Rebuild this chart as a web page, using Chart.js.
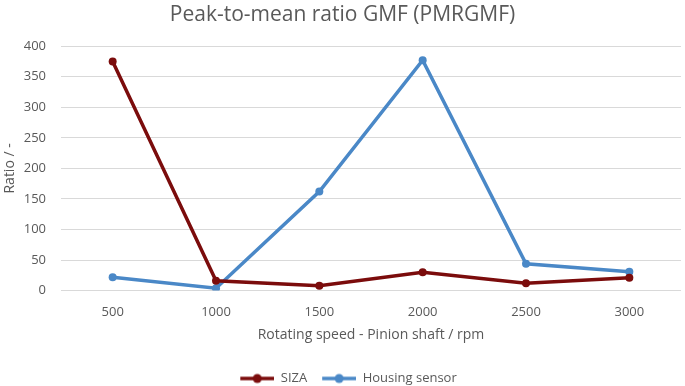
<!DOCTYPE html>
<html>
<head>
<meta charset="utf-8">
<script src="https://cdn.jsdelivr.net/npm/chart.js@4/dist/chart.umd.min.js"></script>
<style>
  html, body { margin: 0; padding: 0; background: #fff; }
  #wrap { width: 685px; height: 386px; position: relative; }
</style>
</head>
<body>
<div id="wrap"><canvas id="chart"></canvas></div>
<script>
const speeds = ['500', '1000', '1500', '2000', '2500', '3000'];
const sizaValues = [375, 16, 8, 30, 12, 21];
const housingValues = [22, 4, 162, 377, 44, 31];
const yTicks = [0, 50, 100, 150, 200, 250, 300, 350, 400];

const FONT = "'Open Sans', 'Noto Sans', sans-serif";
const GREY = '#595959';

// legend marker: short line with a dot in the middle, some blank room on the left
function legendMarker(color) {
  const c = document.createElement('canvas');
  c.width = 46; c.height = 12;
  const ctx = c.getContext('2d');
  ctx.strokeStyle = color;
  ctx.lineWidth = 3.5;
  ctx.beginPath();
  ctx.moveTo(12, 6); ctx.lineTo(46, 6);
  ctx.stroke();
  ctx.fillStyle = color;
  ctx.beginPath();
  ctx.arc(29, 6, 4.5, 0, Math.PI * 2);
  ctx.fill();
  return c;
}

new Chart(document.getElementById('chart'), {
  type: 'line',
  data: {
    labels: speeds,
    datasets: [
      {
        label: 'SIZA',
        data: sizaValues,
        borderColor: '#7b0c0c',
        backgroundColor: '#7b0c0c',
        borderWidth: 3.5,
        pointRadius: 4,
        pointHoverRadius: 4,
        pointBorderWidth: 0,
        tension: 0
      },
      {
        label: 'Housing sensor',
        data: housingValues,
        borderColor: '#4a88c7',
        backgroundColor: '#4a88c7',
        borderWidth: 3.5,
        pointRadius: 4,
        pointHoverRadius: 4,
        pointBorderWidth: 0,
        tension: 0
      }
    ]
  },
  options: {
    responsive: true,
    maintainAspectRatio: false,
    animation: false,
    layout: { padding: { left: 0, right: 0, top: 2, bottom: -9 } },
    scales: {
      x: {
        offset: true,
        grid: { display: false },
        border: { display: false },
        ticks: { color: GREY, font: { family: FONT, size: 13 }, padding: 6 },
        title: {
          display: true,
          text: 'Rotating speed - Pinion shaft / rpm',
          color: GREY,
          font: { family: FONT, size: 14 },
          padding: { top: 0, bottom: 26 }
        }
      },
      y: {
        min: 0,
        max: 400,
        afterBuildTicks: axis => { axis.ticks = yTicks.map(v => ({ value: v })); },
        afterFit: axis => { axis.width = 61; },
        grid: { color: '#d9d9d9', lineWidth: 1, drawTicks: false },
        border: { display: false },
        ticks: { color: GREY, font: { family: FONT, size: 13 }, padding: 15 },
        title: {
          display: true,
          text: 'Ratio / -',
          color: GREY,
          font: { family: FONT, size: 14 },
          padding: { top: 2, bottom: 0 }
        }
      }
    },
    plugins: {
      title: {
        display: true,
        text: 'Peak-to-mean ratio GMF (PMRGMF)',
        color: GREY,
        font: { family: FONT, size: 21, weight: 'normal' },
        padding: { top: 0, bottom: 19 }
      },
      legend: {
        position: 'bottom',
        labels: {
          color: GREY,
          font: { family: FONT, size: 13 },
          usePointStyle: true,
          pointStyleWidth: 46,
          boxHeight: 12,
          padding: 3,
          generateLabels: chart => chart.data.datasets.map((ds, i) => ({
            text: ds.label,
            fontColor: GREY,
            pointStyle: legendMarker(ds.borderColor),
            datasetIndex: i,
            hidden: false,
            lineWidth: 0
          }))
        }
      },
      tooltip: { enabled: false }
    }
  }
});
</script>
</body>
</html>
